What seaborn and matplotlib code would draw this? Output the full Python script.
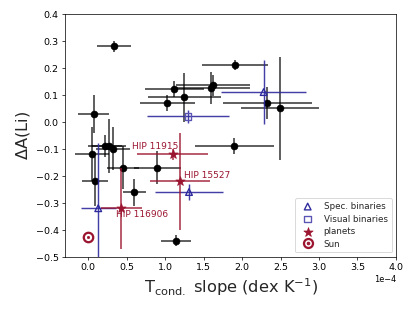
import numpy as np
import pandas as pd
import matplotlib
matplotlib.use('Agg')
import matplotlib.pyplot as plt
import seaborn as sns

# Tcond slope in units of 1e-4 dex/K, Delta A(Li) in dex
star_slope = [0.34, 1.91, 1.12, 1.60, 1.62, 1.25, 1.03, 2.33, 2.49, 0.07,
              0.22, 0.27, 0.32, 0.05, 0.45, 0.90, 0.09, 0.60, 1.14, 1.90]
star_slope_err = [0.22, 0.43, 0.38, 0.50, 0.48, 0.47, 0.36, 0.58, 0.51, 0.20,
                  0.22, 0.22, 0.22, 0.22, 0.21, 0.31, 0.17, 0.15, 0.19, 0.51]
star_dli = [0.28, 0.21, 0.12, 0.125, 0.135, 0.09, 0.07, 0.07, 0.05, 0.03,
            -0.09, -0.09, -0.10, -0.12, -0.17, -0.17, -0.22, -0.26, -0.44, -0.09]
star_dli_err = [0.02, 0.02, 0.03, 0.06, 0.04, 0.09, 0.03, 0.06, 0.19, 0.07,
                0.04, 0.10, 0.08, 0.10, 0.08, 0.06, 0.09, 0.05, 0.02, 0.03]

sb_slope = [0.13, 1.31, 2.28]
sb_slope_err = [0.23, 0.44, 0.55]
sb_dli = [-0.32, -0.26, 0.11]
sb_dli_err = [0.24, 0.03, 0.12]

vb_slope = [1.30]
vb_slope_err = [0.53]
vb_dli = [0.02]
vb_dli_err = [0.025]

pl_names = ['HIP 11915', 'HIP 15527', 'HIP 116906']
pl_slope = [1.10, 1.19, 0.43]
pl_slope_err = [0.46, 0.39, 0.27]
pl_dli = [-0.12, -0.22, -0.32]
pl_dli_err = [0.02, 0.18, 0.15]
pl_label_pos = [(0.57, -0.089), (1.25, -0.199), (0.36, -0.344)]

sun_slope = [0.0]
sun_dli = [-0.425]

scale = 1e-4
blue = '#2e2a9e'
red = '#9b1530'

sns.set_style('ticks')
fig, ax = plt.subplots(figsize=(6.4, 4.8), dpi=64.85)
fig.subplots_adjust(left=0.157, right=0.954, top=0.955, bottom=0.174)

stars = pd.DataFrame({'slope': np.array(star_slope) * scale, 'dli': star_dli})
sb = pd.DataFrame({'slope': np.array(sb_slope) * scale, 'dli': sb_dli})
vb = pd.DataFrame({'slope': np.array(vb_slope) * scale, 'dli': vb_dli})
pl = pd.DataFrame({'slope': np.array(pl_slope) * scale, 'dli': pl_dli})
sun = pd.DataFrame({'slope': np.array(sun_slope) * scale, 'dli': sun_dli})

ax.errorbar(stars['slope'], stars['dli'], xerr=np.array(star_slope_err) * scale,
            yerr=star_dli_err, fmt='none', ecolor='k', elinewidth=1.7, alpha=0.8, zorder=2)
sns.scatterplot(data=stars, x='slope', y='dli', ax=ax, color='k', s=60,
                edgecolor='k', zorder=3)

ax.errorbar(sb['slope'], sb['dli'], xerr=np.array(sb_slope_err) * scale,
            yerr=sb_dli_err, fmt='none', ecolor=blue, elinewidth=1.6, alpha=0.9, zorder=4)
ax.errorbar(vb['slope'], vb['dli'], xerr=np.array(vb_slope_err) * scale,
            yerr=vb_dli_err, fmt='none', ecolor=blue, elinewidth=1.6, alpha=0.9, zorder=4)
ax.errorbar(pl['slope'], pl['dli'], xerr=np.array(pl_slope_err) * scale,
            yerr=pl_dli_err, fmt='none', ecolor=red, elinewidth=1.8, alpha=0.85, zorder=4)

sns.scatterplot(data=sb, x='slope', y='dli', ax=ax, marker='^', s=55,
                facecolor='none', edgecolor=blue, linewidth=1.5,
                label='Spec. binaries', zorder=5)
sns.scatterplot(data=vb, x='slope', y='dli', ax=ax, marker='s', s=50,
                facecolor='none', edgecolor='#5a55b5', linewidth=1.5,
                label='Visual binaries', zorder=5)
sns.scatterplot(data=pl, x='slope', y='dli', ax=ax, marker='*', s=115,
                color=red, edgecolor=red, label='planets', zorder=5)
sns.scatterplot(data=sun, x='slope', y='dli', ax=ax, marker='o', s=110,
                facecolor='white', edgecolor=red, linewidth=2.5, zorder=5)
sns.scatterplot(data=sun, x='slope', y='dli', ax=ax, marker='o', s=10,
                color=red, edgecolor=red, zorder=6)

for name, (tx, ty) in zip(pl_names, pl_label_pos):
    ax.text(tx * scale, ty, name, color=red, fontsize=10, va='center', ha='left')

ax.set_xlim(-0.3e-4, 4.0e-4)
ax.set_ylim(-0.5, 0.4)
ax.set_xticks(np.arange(0, 4.01, 0.5) * scale)
ax.set_yticks(np.arange(-0.5, 0.41, 0.1))
ax.ticklabel_format(axis='x', style='sci', scilimits=(0, 0))
ax.tick_params(labelsize=10.5, colors='k')
ax.xaxis.get_offset_text().set_fontsize(9)
ax.set_xlabel(r'T$_{\rm cond.}$ slope (dex K$^{-1}$)', fontsize=18)
ax.set_ylabel(r'$\Delta$A(Li)', fontsize=18)
for sp in ax.spines.values():
    sp.set_color('k')

h, l = ax.get_legend_handles_labels()
sun_ring = plt.Line2D([], [], marker='o', ls='none', markersize=10,
                      markerfacecolor='white', markeredgecolor=red, markeredgewidth=2.5)
sun_dot = plt.Line2D([], [], marker='o', ls='none', markersize=3, color=red)
h.append((sun_ring, sun_dot))
l.append('Sun')
ax.legend(h, l, loc='lower right', fontsize=9.8, handletextpad=0.8,
          borderpad=0.45, labelspacing=0.4)

plt.savefig('out.png', dpi=64.85)
